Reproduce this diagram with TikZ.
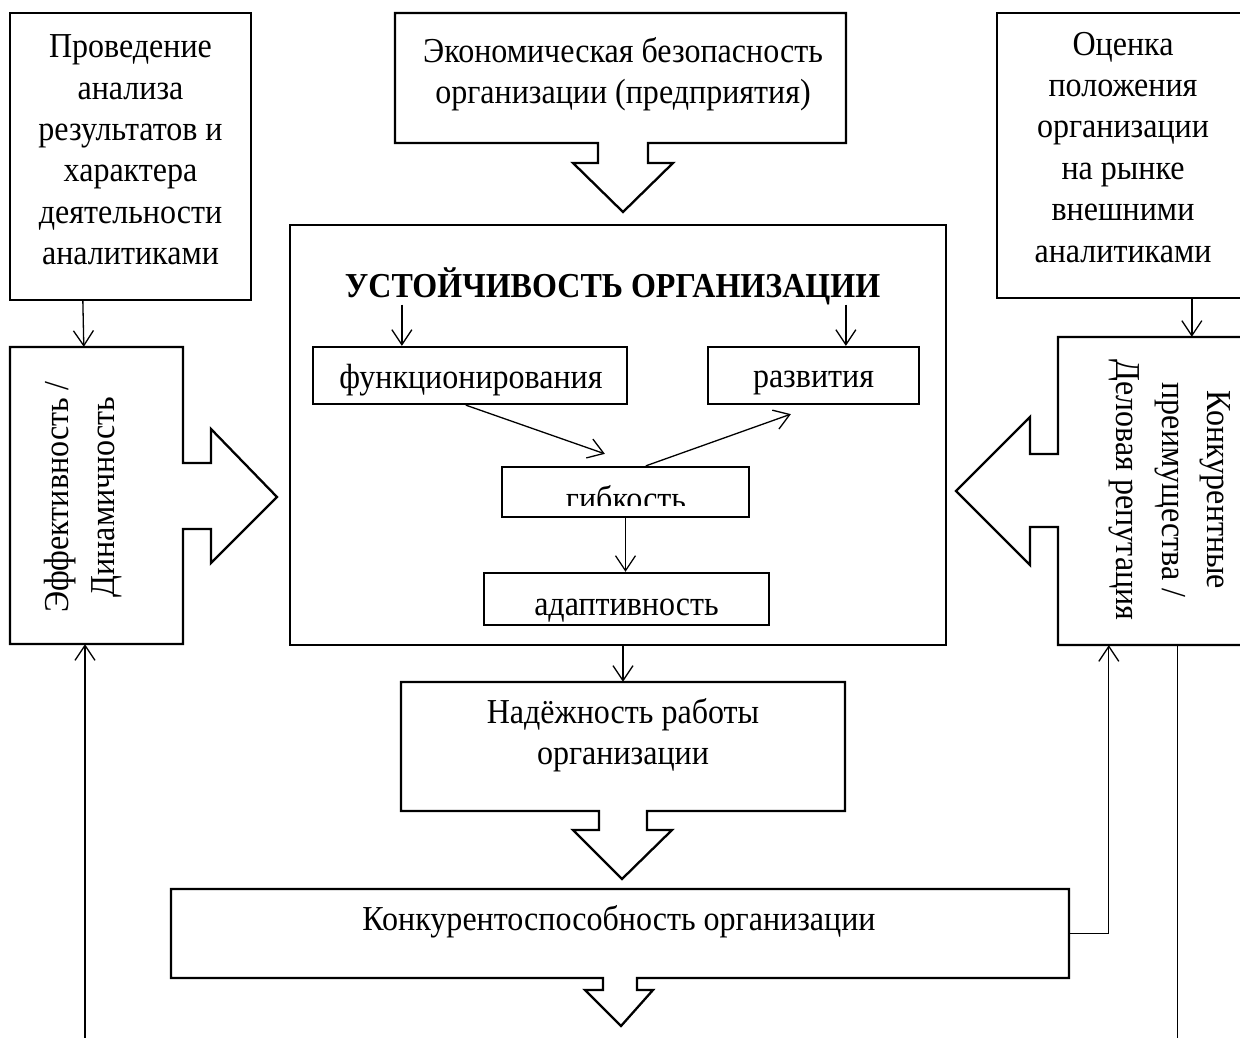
\documentclass[tikz,border=0pt]{standalone}
\usepackage{fontspec}
\usepackage{graphicx}
\setmainfont{Liberation Serif}
\usetikzlibrary{arrows.meta,calc}
\newcommand{\sqz}[1]{\scalebox{0.915}[1]{#1}}
\tikzset{
  outl/.style={line width=2.3pt, line join=miter},
  conn/.style={line width=1.3pt, -{Straight Barb[length=15pt,width=20pt,line width=1.3pt]}},
  plainline/.style={line width=1.3pt},
  box/.style={draw, line width=2.3pt, inner sep=0pt, rectangle},
  area/.style={inner sep=0pt, rectangle, draw=none},
  txt/.style={inner sep=0pt, font=\fontsize{35}{41.4}\selectfont, align=center},
  rtxt/.style={inner sep=0pt, font=\fontsize{35}{45.5}\selectfont, align=center},
}
\begin{document}
\begin{tikzpicture}[x=1pt,y=-1pt]
\useasboundingbox (0,0) rectangle (1240,1038);
\clip (0,0) rectangle (1240,1038);

% ---- plain boxes
\node[box, minimum width=241pt, minimum height=287pt] (tl) at (130.5,156.5) {};
\node[box, minimum width=273pt, minimum height=285pt] (tr) at (1133.5,155.5) {};
\node[box, minimum width=656pt, minimum height=420pt] (main) at (618,435) {};
\node[box, minimum width=314pt, minimum height=57pt] (funk) at (470,375.5) {};
\node[box, minimum width=211pt, minimum height=57pt] (razv) at (813.5,375.5) {};
\node[box, minimum width=247pt, minimum height=50pt] (gibk) at (625.5,492) {};
\node[box, minimum width=285pt, minimum height=52pt] (adapt) at (626.5,599) {};

% ---- callout areas (outlines drawn below)
\node[area, minimum width=451pt, minimum height=130pt] (eb) at (620.5,78) {};
\node[area, minimum width=173pt, minimum height=297pt] (ef) at (96.5,495.5) {};
\node[area, minimum width=212pt, minimum height=308pt] (kp) at (1164,491) {};
\node[area, minimum width=444pt, minimum height=129pt] (nad) at (623,746.5) {};
\node[area, minimum width=898pt, minimum height=89pt] (konk) at (620,933.5) {};

% ---- callout outlines
\draw[outl] (395,13) -- (846,13) -- (846,143) -- (648,143) -- (648,163) -- (673,163) -- (623,212) -- (573,163) -- (598,163) -- (598,143) -- (395,143) -- cycle;
\draw[outl] (10,347) -- (183,347) -- (183,463) -- (211,463) -- (211,429) -- (277,497) -- (211,563) -- (211,529) -- (183,529) -- (183,644) -- (10,644) -- cycle;
\draw[outl] (1270,337) -- (1058,337) -- (1058,454) -- (1030,454) -- (1030,417) -- (956,491) -- (1030,565) -- (1030,527) -- (1058,527) -- (1058,645) -- (1270,645) -- cycle;
\draw[outl] (401,682) -- (845,682) -- (845,811) -- (647,811) -- (647,830) -- (672,830) -- (622,879) -- (573,830) -- (599,830) -- (599,811) -- (401,811) -- cycle;
\draw[outl] (171,889) -- (1069,889) -- (1069,978) -- (637,978) -- (637,990) -- (653,990) -- (621,1026) -- (585,990) -- (603,990) -- (603,978) -- (171,978) -- cycle;

% ---- texts
\node[txt, anchor=north] (tlT) at (130.5,28.5) {\strut\sqz{Проведение}\\\sqz{анализа}\\\sqz{результатов и}\\\sqz{характера}\\\sqz{деятельности}\\\sqz{аналитиками}};
\node[txt, anchor=north] (ebT) at (623,33) {\strut\sqz{Экономическая безопасность}\\\sqz{организации (предприятия)}};
\node[txt, anchor=north] (trT) at (1123,26) {\strut\sqz{Оценка}\\\sqz{положения}\\\sqz{организации}\\\sqz{на рынке}\\\sqz{внешними}\\\sqz{аналитиками}};
\node[txt, anchor=base, font=\fontsize{35}{40}\selectfont\bfseries] (title) at (612.5,297) {\sqz{УСТОЙЧИВОСТЬ ОРГАНИЗАЦИИ}};
\node[txt, anchor=base] (funkT) at (471,388) {\sqz{функционирования}};
\node[txt, anchor=base] (razvT) at (813.5,387) {\sqz{развития}};
\begin{scope}
  \clip (502,467) rectangle (749,505);
  \node[txt, anchor=base] (gibkT) at (626,510) {\sqz{гибкость}};
\end{scope}
\node[txt, anchor=base] (adaptT) at (626.5,615) {\sqz{адаптивность}};
\node[rtxt, anchor=north, rotate=90] (efT) at (36.5,497) {\strut\sqz{Эффективность /}\\\sqz{Динамичность}};
\node[rtxt, anchor=north, rotate=-90] (kpT) at (1240,490) {\strut\sqz{Конкурентные}\\\sqz{преимущества /}\\\sqz{Деловая репутация}};
\node[txt, anchor=north] (nadT) at (623,694) {\strut\sqz{Надёжность работы}\\\sqz{организации}};
\node[txt, anchor=base] (konkT) at (619,930) {\sqz{Конкурентоспособность организации}};

% ---- connectors
\draw[conn] ([xshift=74pt]tl.south west) -- ([xshift=74pt]ef.north west);
\draw[conn] ([xshift=196pt]tr.south west) -- ([xshift=196pt]tr.south west |- kp.north);
\draw[conn] ([xshift=90pt]funk.north west |- title.south) -- ([xshift=90pt]funk.north west);
\draw[conn] ([xshift=139pt]razv.north west |- title.south) -- ([xshift=139pt]razv.north west);
\draw[conn] ([xshift=154pt]funk.south west) -- ([shift={(104,-12)}]gibk.north west);
\draw[conn] ([xshift=145pt]gibk.north west) -- ([shift={(84,9)}]razv.south west);
\draw[conn] (gibk.south) -- (gibk.south |- adapt.north);
\draw[conn] (nad.north |- main.south) -- (nad.north);
\draw[conn] (konk.east) -| ([xshift=51pt]kp.south west);
\coordinate (lb) at (85,1045);
\draw[conn] (lb) -- (lb |- ef.south);
\coordinate (rb) at (1178,1045);
\draw[plainline] ([xshift=120pt]kp.south west) -- ([xshift=120pt]kp.south west |- rb);
\end{tikzpicture}
\end{document}
